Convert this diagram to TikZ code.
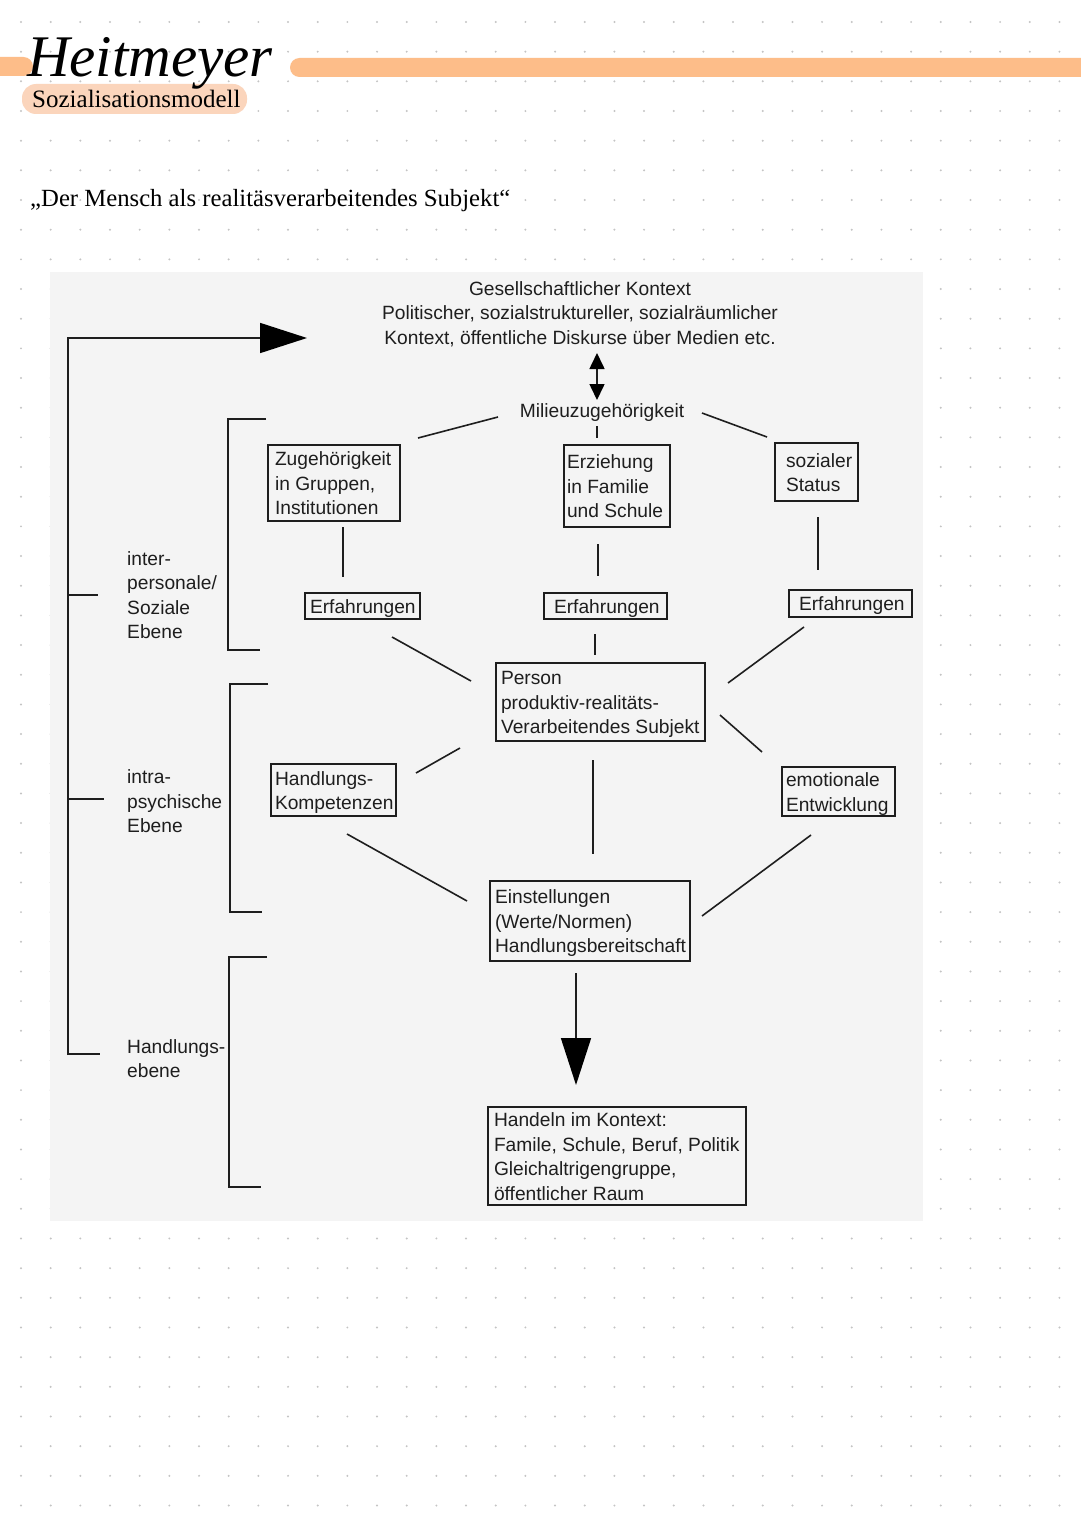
\documentclass[tikz,border=0pt]{standalone}
\usepackage{fontspec}
\setmainfont{Liberation Serif}
\newfontfamily\diagf{Liberation Sans}
\usetikzlibrary{arrows.meta}
\definecolor{peach}{HTML}{FDBD89}
\definecolor{pillc}{HTML}{FBD5BC}
\definecolor{panelc}{HTML}{F4F4F4}
\definecolor{dotc}{HTML}{C4C4C4}
\definecolor{linec}{HTML}{1E1E1E}
\newcommand{\bxt}[2]{\makebox[#1][l]{\raisebox{-2.5pt}[\height][\depth]{\begin{tabular}{@{}l@{}}#2\end{tabular}}}}
\tikzset{
  ln/.style={draw=linec, line width=1.6pt},
  dtext/.style={font=\diagf\fontsize{19.2}{24.5}\selectfont, text=linec},
  bx/.style={dtext, draw=linec, line width=1.5pt, anchor=north west, inner ysep=0pt, outer sep=0pt},
  lbl/.style={dtext, anchor=west, inner sep=0pt, align=left},
  bigtip/.style={-{Triangle[length=47pt, width=30pt, color=black]}},
}
\begin{document}
\begin{tikzpicture}[x=1pt, y=-1pt]
\useasboundingbox (0,0) rectangle (1080,1525);
\fill[white] (0,0) rectangle (1080,1525);
% dot grid
\foreach \i in {0,...,36}{\foreach \j in {0,...,51}{\fill[dotc] ({21+29.67*\i},{22+29.67*\j}) circle (1.1pt);}}
% header
\fill[peach, rounded corners=9.5pt] (-20,57) rectangle (33,76);
\fill[peach, rounded corners=9.5pt] (290,58) rectangle (1110,77);
\fill[pillc, rounded corners=14pt] (22,84) rectangle (247,114);
\node[anchor=base west, inner sep=0pt, font=\fontsize{25}{30}\selectfont] (sub) at (32,108) {Sozialisationsmodell};
\node[anchor=base west, inner sep=0pt, font=\itshape\fontsize{59}{60}\selectfont] (title) at (27,77) {Heitmeyer};
\node[anchor=base west, inner sep=0pt, font=\fontsize{24.7}{30}\selectfont] (subtitle) at (30,207) {„Der Mensch als realitäsverarbeitendes Subjekt“};
% panel
\fill[panelc] (50,272) rectangle (923,1221);
% texts
\node[dtext, align=center, inner sep=0pt] (ctx) at (580,314) {Gesellschaftlicher Kontext\\Politischer, sozialstruktureller, sozialräumlicher\\Kontext, öffentliche Diskurse über Medien etc.};
\node[dtext, inner sep=0pt] (mil) at (602,412.5) {Milieuzugehörigkeit};
% boxes
\node[bx, minimum width=132pt, minimum height=76pt, inner xsep=7pt] (zug) at (268,445) {\bxt{118pt}{Zugehörigkeit\\in Gruppen,\\Institutionen}};
\node[bx, minimum width=106pt, minimum height=82pt, inner xsep=3pt] (erz) at (564,445) {\bxt{100pt}{Erziehung\\in Familie\\und Schule}};
\node[bx, minimum width=83pt, minimum height=58pt, inner xsep=11pt] (soz) at (775,443) {\bxt{61pt}{sozialer\\Status}};
\node[bx, minimum width=115pt, minimum height=26pt, inner xsep=5pt] (erfa) at (305,593) {\bxt{105pt}{Erfahrungen}};
\node[bx, minimum width=123pt, minimum height=26pt, inner xsep=10pt] (erfb) at (544,593) {\bxt{103pt}{Erfahrungen}};
\node[bx, minimum width=123pt, minimum height=27pt, inner xsep=10pt] (erfc) at (789,590) {\bxt{103pt}{Erfahrungen}};
\node[bx, minimum width=209pt, minimum height=78pt, inner xsep=5pt] (pers) at (496,663) {\bxt{199pt}{Person\\produktiv-realitäts-\\Verarbeitendes Subjekt}};
\node[bx, minimum width=125pt, minimum height=52pt, inner xsep=4pt] (handk) at (271,764) {\bxt{117pt}{Handlungs-\\Kompetenzen}};
\node[bx, minimum width=113pt, minimum height=46pt, inner xsep=4pt] (emo) at (782,767) {\bxt{105pt}{emotionale\\Entwicklung}};
\node[bx, minimum width=200pt, minimum height=80pt, inner xsep=5pt] (einst) at (490,881) {\bxt{190pt}{Einstellungen\\(Werte/Normen)\\Handlungsbereitschaft}};
\node[bx, minimum width=258pt, minimum height=97pt, inner xsep=6pt] (handeln) at (488,1107) {\bxt{246pt}{Handeln im Kontext:\\Famile, Schule, Beruf, Politik\\Gleichaltrigengruppe,\\öffentlicher Raum}};
% level labels
\node[lbl] (inter) at (127,595) {inter-\\personale/\\Soziale\\Ebene};
\node[lbl] (intra) at (127,801.5) {intra-\\psychische\\Ebene};
\node[lbl] (hebene) at (127,1058.5) {Handlungs-\\ebene};
% connector end points
\coordinate (a1) at (498,417); \coordinate (a2) at (418,438);
\coordinate (b1) at (702,413); \coordinate (b2) at (767,437);
\coordinate (c1) at (597,426); \coordinate (c2) at (597,438);
\coordinate (d1) at (343,527); \coordinate (d2) at (343,577);
\coordinate (e1) at (598,544); \coordinate (e2) at (598,576);
\coordinate (f1) at (818,517); \coordinate (f2) at (818,570);
\coordinate (g1) at (392,637); \coordinate (g2) at (471,681);
\coordinate (h1) at (595,634); \coordinate (h2) at (595,655);
\coordinate (i1) at (804,627); \coordinate (i2) at (728,683);
\coordinate (j1) at (460,748); \coordinate (j2) at (416,773);
\coordinate (k1) at (720,715); \coordinate (k2) at (762,752);
\coordinate (m1) at (593,760); \coordinate (m2) at (593,854);
\coordinate (n1) at (347,834); \coordinate (n2) at (467,901);
\coordinate (o1) at (811,835); \coordinate (o2) at (702,916);
\coordinate (p1) at (576,973); \coordinate (p2) at (576,1085);
\coordinate (q1) at (597,353); \coordinate (q2) at (597,400);
\draw[ln] (a1) -- (a2);
\draw[ln] (b1) -- (b2);
\draw[ln] (c1) -- (c2);
\draw[ln] (d1) -- (d2);
\draw[ln] (e1) -- (e2);
\draw[ln] (f1) -- (f2);
\draw[ln] (g1) -- (g2);
\draw[ln] (h1) -- (h2);
\draw[ln] (i1) -- (i2);
\draw[ln] (j1) -- (j2);
\draw[ln] (k1) -- (k2);
\draw[ln] (m1) -- (m2);
\draw[ln] (n1) -- (n2);
\draw[ln] (o1) -- (o2);
\draw[ln, bigtip] (p1) -- (p2);
\draw[ln, {Triangle[length=16pt, width=15pt, color=black]}-{Triangle[length=16pt, width=15pt, color=black]}] (q1) -- (q2);
% left structure
\coordinate (lvbot) at (68,1055); \coordinate (lvtop) at (68,338); \coordinate (ltip) at (307,338);
\draw[ln, bigtip] (lvbot) -- (lvtop) -- (ltip);
\coordinate (t1) at (68,595); \coordinate (t1e) at (98,595);
\coordinate (t2) at (68,799); \coordinate (t2e) at (104,799);
\coordinate (t3) at (68,1054); \coordinate (t3e) at (100,1054);
\draw[ln] (t1) -- (t1e);
\draw[ln] (t2) -- (t2e);
\draw[ln] (t3) -- (t3e);
\coordinate (br1a) at (266,419); \coordinate (br1b) at (228,419); \coordinate (br1c) at (228,650); \coordinate (br1d) at (260,650);
\coordinate (br2a) at (268,684); \coordinate (br2b) at (230,684); \coordinate (br2c) at (230,912); \coordinate (br2d) at (262,912);
\coordinate (br3a) at (267,957); \coordinate (br3b) at (229,957); \coordinate (br3c) at (229,1187); \coordinate (br3d) at (261,1187);
\draw[ln] (br1a) -- (br1b) -- (br1c) -- (br1d);
\draw[ln] (br2a) -- (br2b) -- (br2c) -- (br2d);
\draw[ln] (br3a) -- (br3b) -- (br3c) -- (br3d);
\end{tikzpicture}
\end{document}
